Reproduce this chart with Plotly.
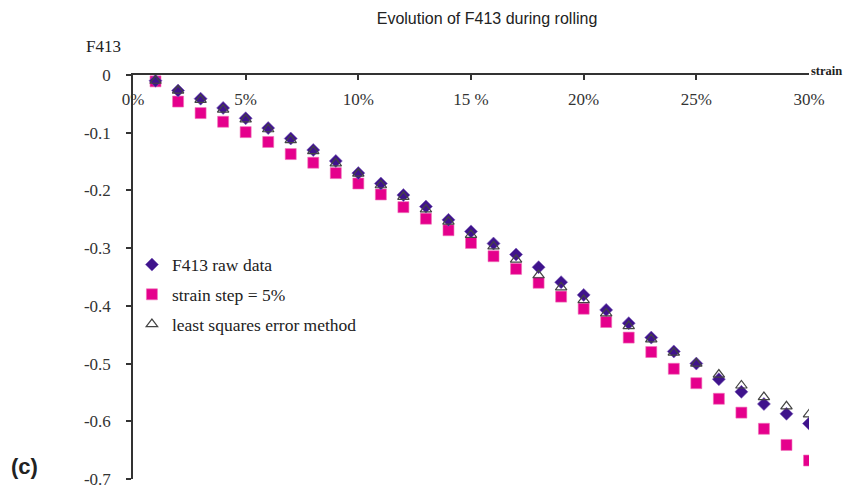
import plotly.graph_objects as go

strain = [i / 100 for i in range(1, 31)]

raw_data = [-0.010, -0.027, -0.041, -0.057, -0.075, -0.092, -0.110, -0.130, -0.149, -0.170,
            -0.188, -0.208, -0.228, -0.251, -0.271, -0.292, -0.311, -0.333, -0.359, -0.381,
            -0.407, -0.430, -0.455, -0.479, -0.500, -0.527, -0.549, -0.570, -0.587, -0.604]

step_5 = [-0.011, -0.046, -0.066, -0.081, -0.099, -0.116, -0.137, -0.152, -0.170, -0.188,
          -0.207, -0.229, -0.249, -0.269, -0.291, -0.314, -0.336, -0.360, -0.384, -0.405,
          -0.428, -0.455, -0.480, -0.509, -0.534, -0.561, -0.585, -0.613, -0.641, -0.668]

least_sq = [-0.010, -0.027, -0.043, -0.060, -0.077, -0.094, -0.113, -0.132, -0.153, -0.171,
            -0.191, -0.211, -0.233, -0.254, -0.277, -0.297, -0.320, -0.347, -0.368, -0.390,
            -0.413, -0.435, -0.458, -0.481, -0.500, -0.519, -0.538, -0.558, -0.574, -0.588]

x_tickvals = [0, 0.05, 0.10, 0.15, 0.20, 0.25, 0.30]
x_ticktext = ["0%", "5%", "10%", "15 %", "20%", "25%", "30%"]
y_tickvals = [0, -0.1, -0.2, -0.3, -0.4, -0.5, -0.6, -0.7]
y_ticktext = ["0", "-0.1", "-0.2", "-0.3", "-0.4", "-0.5", "-0.6", "-0.7"]

SERIF = "Liberation Serif"

# the page body has an 8px margin; figure is sized/positioned to compensate
W, H = 848, 481
L, R, T, B = 125, 47, 67, 10
PW, PH = W - L - R, H - T - B


def px(xf):
    return (xf - L) / PW


def py(yf):
    return 1 - (yf - T) / PH


fig = go.Figure()
fig.add_trace(go.Scatter(
    x=strain, y=step_5, mode="markers", name="strain step = 5%",
    legendgroup="b", legendrank=2,
    marker=dict(symbol="square", size=11, color="#E5008C",
                line=dict(width=0.6, color="#F070B8"))))
fig.add_trace(go.Scatter(
    x=strain, y=raw_data, mode="markers", name="F413 raw data",
    legendgroup="a", legendrank=1,
    marker=dict(symbol="diamond", size=10, color="#3F138C",
                line=dict(width=0.6, color="#7A5CB8"))))
fig.add_trace(go.Scatter(
    x=strain, y=least_sq, mode="markers", name="least squares error method",
    legendgroup="c", legendrank=3,
    marker=dict(symbol="triangle-up-open", size=10, color="#444444",
                line=dict(width=1.2))))

fig.update_layout(
    width=W, height=H,
    margin=dict(l=L, r=R, t=T, b=B, autoexpand=False),
    paper_bgcolor="white", plot_bgcolor="white",
    showlegend=True,
    legend=dict(x=-0.0016, y=0.575, xanchor="left", yanchor="top",
                font=dict(family=SERIF, size=17.5, color="#222"),
                traceorder="grouped", tracegroupgap=4,
                bgcolor="rgba(0,0,0,0)"),
    title=dict(text="Evolution of F413 during rolling",
               x=479 / W, xanchor="center", y=1 - 10 / H, yanchor="middle",
               automargin=False,
               font=dict(family="Liberation Sans", size=16, color="#222")),
    xaxis=dict(range=[0, 0.30], side="top", showgrid=False, zeroline=False,
               automargin=False,
               showline=True, linecolor="#333", linewidth=1.5,
               ticks="inside", ticklen=5, tickcolor="#333", tickwidth=1.5,
               ticklabelposition="inside", ticklabelstandoff=14,
               ticklabeloverflow="allow",
               tickvals=x_tickvals, ticktext=x_ticktext,
               tickfont=dict(family=SERIF, size=17, color="#333")),
    yaxis=dict(range=[-0.7, 0], showgrid=False, zeroline=False,
               automargin=False,
               showline=True, linecolor="#333", linewidth=1.5,
               ticks="outside", ticklen=5, tickcolor="#333", tickwidth=1.5,
               ticklabeloverflow="allow",
               tickvals=y_tickvals, ticktext=y_ticktext, ticklabelstandoff=12,
               tickfont=dict(family=SERIF, size=17, color="#333")),
    annotations=[
        dict(text="F413", xref="paper", yref="paper", x=px(95.5), y=py(39),
             showarrow=False, xanchor="center", yanchor="middle",
             font=dict(family=SERIF, size=17, color="#222")),
        dict(text="<b>strain</b>", xref="paper", yref="paper", x=px(801), y=py(63),
             showarrow=False, xanchor="left", yanchor="middle",
             font=dict(family=SERIF, size=12.5, color="#222")),
        dict(text="<b>(c)</b>", xref="paper", yref="paper", x=px(1), y=py(458),
             showarrow=False, xanchor="left", yanchor="middle",
             font=dict(family="Liberation Sans", size=22, color="#222")),
    ],
)

fig.write_html("out.html")
